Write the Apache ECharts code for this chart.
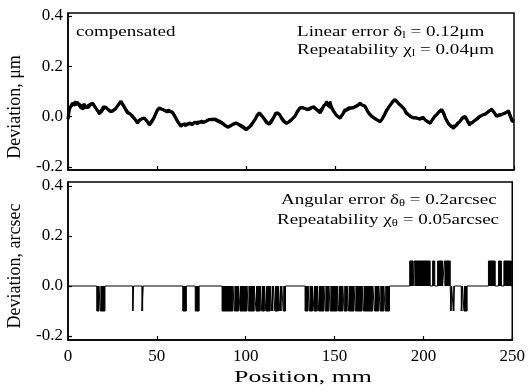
<!DOCTYPE html>
<html>
<head>
<meta charset="utf-8">
<script src="https://cdn.jsdelivr.net/npm/echarts@6/dist/echarts.min.js"></script>
<style>
  html, body { margin: 0; padding: 0; background: #fff; }
  #chart { width: 528px; height: 391px; }
</style>
</head>
<body>
<div id="chart"></div>
<script>
// tick labels
const xTicks = [0, 50, 100, 150, 200, 250]
const yTicks = [-0.2, 0, 0.2, 0.4]

// compensated linear deviation, two runs [position mm, deviation um]
const run1 = [
  [0, -0.01], [0.7, 0.028], [1.5, 0.04], [2.6, 0.054], [4, 0.045], [5, 0.058], [6.4, 0.048], [8, 0.04],
  [9, 0.05], [10.1, 0.035], [11.5, 0.045], [12.5, 0.05], [13.8, 0.054], [15, 0.04], [16.5, 0.025],
  [17.6, 0.015], [19, 0.028], [20, 0.04], [21.3, 0.035], [22.5, 0.028], [24, 0.02], [25, 0.015],
  [26.5, 0.03], [28, 0.045], [29.7, 0.061], [31, 0.045], [32.2, 0.03], [33.4, 0.015], [35, 0.01],
  [36.2, 0.0], [37.5, -0.01], [39, -0.025], [40, -0.015], [41.5, -0.008], [42.8, -0.005], [44, -0.015],
  [45.6, -0.033], [47, -0.02], [48.5, 0.0], [50, 0.025], [51.2, 0.035], [52.5, 0.03], [53.5, 0.025],
  [54.9, 0.022], [56.5, 0.025], [57.5, 0.018], [58.7, 0.015], [60, 0.0], [61.5, -0.02], [63.3, -0.038],
  [64.5, -0.03], [66, -0.035], [67, -0.028], [68, -0.025], [69.5, -0.032], [71, -0.022], [72.5, -0.028],
  [73.6, -0.025], [75, -0.018], [76.5, -0.022], [77.4, -0.018], [79, -0.012], [80, -0.018], [81.1, -0.012],
  [82.5, -0.01], [83.5, -0.016], [84.8, -0.018], [86.5, -0.025], [88, -0.035], [89.5, -0.042],
  [90.4, -0.045], [91.5, -0.035], [93, -0.028], [94.2, -0.025], [95.5, -0.03], [97, -0.038],
  [98.5, -0.045], [99.8, -0.052], [101, -0.045], [102.5, -0.035], [103.5, -0.03], [105, -0.01],
  [106, 0.005], [107.2, 0.015], [108.5, 0.005], [110, -0.01], [111.5, -0.025], [112.8, -0.03],
  [114, -0.02], [115.5, 0.0], [116.5, 0.015], [117.5, 0.022], [118.5, 0.01], [120, -0.01], [121, -0.02],
  [122.2, -0.025], [123.5, -0.022], [124.4, -0.019], [125.5, -0.01], [127.2, 0.001], [128.5, 0.02],
  [130, 0.035], [131, 0.041], [132, 0.035], [133.5, 0.03], [134.7, 0.028], [136, 0.035], [137.5, 0.038],
  [138.5, 0.035], [140, 0.025], [141.3, 0.015], [142.5, 0.03], [143.5, 0.045], [145, 0.05], [146.5, 0.04],
  [147.8, 0.035], [149, 0.02], [150.5, 0.005], [152.5, -0.005], [154, 0.01], [155, 0.025], [156.2, 0.028],
  [157.5, 0.035], [158.5, 0.03], [159.9, 0.035], [161, 0.04], [162.5, 0.045], [163.7, 0.054],
  [165, 0.045], [166.5, 0.041], [168, 0.02], [169, 0.01], [170.2, 0.001], [171.5, -0.005],
  [173, -0.012], [174.9, -0.019], [176, -0.01], [177.5, 0.01], [178.5, 0.025], [179.5, 0.035],
  [181, 0.05], [182, 0.06], [183.3, 0.068], [184.5, 0.06], [185.5, 0.05], [187, 0.041], [188.5, 0.03],
  [189.5, 0.015], [190.8, 0.008], [192, 0.0], [193.5, -0.005], [195.5, -0.005], [197, -0.01],
  [198, -0.005], [199.2, -0.005], [200.5, -0.015], [201.5, -0.02], [202.9, -0.025], [204, -0.015],
  [205.5, 0.0], [206.7, 0.008], [208, 0.02], [209.5, 0.028], [210.5, 0.015], [211.5, -0.005],
  [212.3, -0.012], [213.5, -0.03], [215, -0.04], [216, -0.045], [217.5, -0.035], [218.5, -0.025],
  [219.7, -0.019], [221, -0.005], [222.5, 0.001], [223.5, -0.01], [224.5, -0.025], [225.3, -0.032],
  [226.5, -0.025], [228, -0.015], [229.1, -0.012], [230.5, 0.0], [231.5, 0.005], [232.8, 0.008],
  [234, 0.01], [235.5, 0.02], [236.5, 0.025], [237.5, 0.028], [238.5, 0.02], [239.5, 0.01],
  [240.3, 0.001], [241.5, 0.005], [243, 0.008], [244, 0.008], [245, 0.015], [246.8, 0.021],
  [248, 0.0], [249, -0.018], [250, -0.018]
]
const run2 = [
  [0, 0.0], [1, 0.035], [2.5, 0.045], [4, 0.06], [5.5, 0.05], [7, 0.035], [8.5, 0.03], [10, 0.04],
  [11.5, 0.035], [13, 0.05], [14.5, 0.045], [16, 0.03], [17.5, 0.01], [19, 0.02], [21, 0.04],
  [23, 0.025], [25, 0.02], [27, 0.035], [29.5, 0.058], [31.5, 0.04], [33.5, 0.02], [36, 0.005],
  [38.5, -0.02], [40.5, -0.01], [43, -0.008], [45.5, -0.028], [48, -0.005], [50.5, 0.03], [53, 0.03],
  [55.5, 0.018], [58.5, 0.02], [61, -0.012], [63, -0.035], [65.5, -0.028], [68, -0.03], [70.5, -0.025],
  [73, -0.02], [75.5, -0.025], [78, -0.015], [81, -0.008], [84, -0.02], [87, -0.03], [90, -0.04],
  [92.5, -0.03], [95, -0.028], [97.5, -0.035], [100, -0.048], [102, -0.04], [104, -0.02], [107, 0.012],
  [109.5, -0.002], [112.5, -0.028], [115, -0.005], [117.5, 0.018], [120, -0.005], [122.5, -0.028],
  [125, -0.015], [127.5, 0.005], [130.5, 0.038], [133, 0.032], [135.5, 0.03], [138, 0.04],
  [140.5, 0.02], [142.5, 0.035], [144, 0.05], [145, 0.061], [146, 0.045], [147, 0.06], [148, 0.035],
  [150, 0.01], [152.5, -0.008], [155, 0.02], [157.5, 0.03], [160, 0.038], [163.5, 0.05], [166, 0.045],
  [169, 0.012], [172, -0.008], [175, -0.022], [177, 0.0], [180, 0.04], [183, 0.065], [185.5, 0.052],
  [188, 0.035], [190.5, 0.01], [193, -0.002], [196, -0.008], [199, -0.002], [201, -0.018],
  [203, -0.028], [205.5, 0.002], [208, 0.018], [209.5, 0.025], [211, 0.005], [213, -0.025],
  [216, -0.048], [218.5, -0.03], [221, -0.008], [223, -0.005], [225, -0.035], [227, -0.02],
  [229.5, -0.01], [232, 0.005], [235, 0.015], [237.5, 0.032], [240, 0.005], [242.5, 0.01],
  [245, 0.012], [247, 0.025], [249, -0.015], [250, -0.02]
]

// angular deviation: intervals [start mm, end mm] where the reading sits at -0.1 / +0.1 arcsec
const pulsesDown = [
  [16.2, 17.4], [18.2, 20.8], [36.4, 36.9], [41.6, 42.3], [64.6, 66.6], [71.6, 73.8],
  [86.7, 92.8], [93.6, 96.0], [96.8, 100.7], [101.5, 104.8], [105.8, 108.2], [109.0, 110.5],
  [111.3, 113.8], [114.6, 115.6], [116.4, 118.4], [119.2, 120.3], [121.1, 122.4],
  [133.4, 135.1], [135.9, 137.6], [138.4, 140.3], [141.1, 144.0], [144.8, 146.8], [147.6, 151.5],
  [152.3, 154.6], [155.4, 157.1], [157.9, 160.9], [161.7, 165.5], [166.3, 171.5], [172.5, 174.9],
  [175.7, 177.7], [178.5, 180.9],
  [215.4, 215.9], [216.8, 217.5], [221.3, 222.0], [222.8, 224.6]
]
const pulsesUp = [
  [192.3, 194.2], [194.9, 203.8], [205.2, 206.4], [208.0, 210.8], [211.8, 215.1],
  [236.6, 240.4], [242.3, 243.9], [245.3, 249.5]
]
const stepLevel = 0.1

const pulses = pulsesDown.map(p => [p[0], p[1], -stepLevel])
  .concat(pulsesUp.map(p => [p[0], p[1], stepLevel]))
  .sort((a, b) => a[0] - b[0])
const angular = [[0, 0]]
pulses.forEach(([s, e, v]) => {
  angular.push([s, 0], [s, v], [e, v], [e, 0])
})
angular.push([250, 0])

const font = 'Liberation Serif, Times New Roman, serif'
const black = '#000'

const makeX = (gridIndex, showLabels) => ({
  gridIndex,
  type: 'value',
  min: 0,
  max: 250,
  interval: 50,
  axisLine: { show: true, onZero: false, lineStyle: { color: black, width: 1.5 } },
  axisTick: { show: true, inside: true, length: 4, lineStyle: { color: black, width: 1.2 } },
  axisLabel: { show: showLabels, color: black, fontFamily: font, fontSize: 17, margin: 8 },
  splitLine: { show: false },
})

const makeY = (gridIndex, min, max) => ({
  gridIndex,
  type: 'value',
  min,
  max,
  axisLine: { show: true, onZero: false, lineStyle: { color: black, width: 1.5 } },
  axisTick: { show: true, inside: true, length: 4, customValues: yTicks, lineStyle: { color: black, width: 1.2 } },
  axisLabel: {
    customValues: yTicks,
    color: black,
    fontFamily: font,
    fontSize: 17,
    margin: 5,
    formatter: v => v.toFixed(1),
  },
  splitLine: { show: false },
})

const annot = (x, y, text) => ({
  type: 'text',
  x,
  y,
  scaleX: 1.27,
  style: {
    text,
    fill: black,
    font: `15px ${font}`,
    verticalAlign: 'middle',
    rich: {
      a: { fontFamily: font, fontSize: 15, fill: black },
      s: { fontFamily: font, fontSize: 10, fill: black, verticalAlign: 'bottom', padding: [6, 0, 0, 0] },
    },
  },
})

const chart = echarts.init(document.getElementById('chart'))
chart.setOption({
  animation: false,
  backgroundColor: '#fff',
  grid: [
    { left: 68, right: 14, top: 13, height: 157, show: true, borderColor: black, borderWidth: 1.5 },
    { left: 68, right: 14, top: 182, height: 158, show: true, borderColor: black, borderWidth: 1.5 },
  ],
  xAxis: [makeX(0, false), makeX(1, true)],
  yAxis: [makeY(0, -0.212, 0.412), makeY(1, -0.216, 0.416)],
  series: [
    {
      name: 'run 1', type: 'line', xAxisIndex: 0, yAxisIndex: 0, data: run1,
      showSymbol: false, lineStyle: { color: black, width: 3.2 },
    },
    {
      name: 'run 2', type: 'line', xAxisIndex: 0, yAxisIndex: 0, data: run2,
      showSymbol: false, lineStyle: { color: black, width: 2.4 },
    },
    {
      // filled blocks of each pulse
      name: 'angular fill', type: 'custom', xAxisIndex: 1, yAxisIndex: 1, data: pulses,
      encode: { x: [0, 1], y: 2 },
      renderItem: (params, api) => {
        const a = api.coord([api.value(0), 0])
        const b = api.coord([api.value(1), api.value(2)])
        return {
          type: 'rect',
          shape: { x: a[0], y: Math.min(a[1], b[1]), width: b[0] - a[0], height: Math.abs(b[1] - a[1]) },
          style: { fill: black },
        }
      },
    },
    {
      name: 'angular', type: 'line', xAxisIndex: 1, yAxisIndex: 1, data: angular,
      showSymbol: false, lineStyle: { color: black, width: 1 },
    },
  ],
  graphic: [
    annot(76, 32, '{a|compensated}'),
    annot(297, 32, '{a|Linear error δ}{s|l}{a| = 0.12μm}'),
    annot(297, 50, '{a|Repeatability χ}{s|l}{a| = 0.04μm}'),
    annot(281, 200, '{a|Angular error δ}{s|θ}{a| = 0.2arcsec}'),
    annot(277, 220, '{a|Repeatability χ}{s|θ}{a| = 0.05arcsec}'),
    {
      type: 'text', x: 303, y: 378, scaleX: 1.52,
      style: { text: 'Position, mm', fill: black, font: `17px ${font}`, align: 'center', verticalAlign: 'middle' },
    },
    {
      type: 'text', x: 15, y: 107, rotation: Math.PI / 2,
      style: { text: 'Deviation, μm', fill: black, font: `18px ${font}`, align: 'center', verticalAlign: 'middle' },
    },
    {
      type: 'text', x: 15, y: 266, rotation: Math.PI / 2,
      style: { text: 'Deviation, arcsec', fill: black, font: `18px ${font}`, align: 'center', verticalAlign: 'middle' },
    },
  ],
})
</script>
</body>
</html>
